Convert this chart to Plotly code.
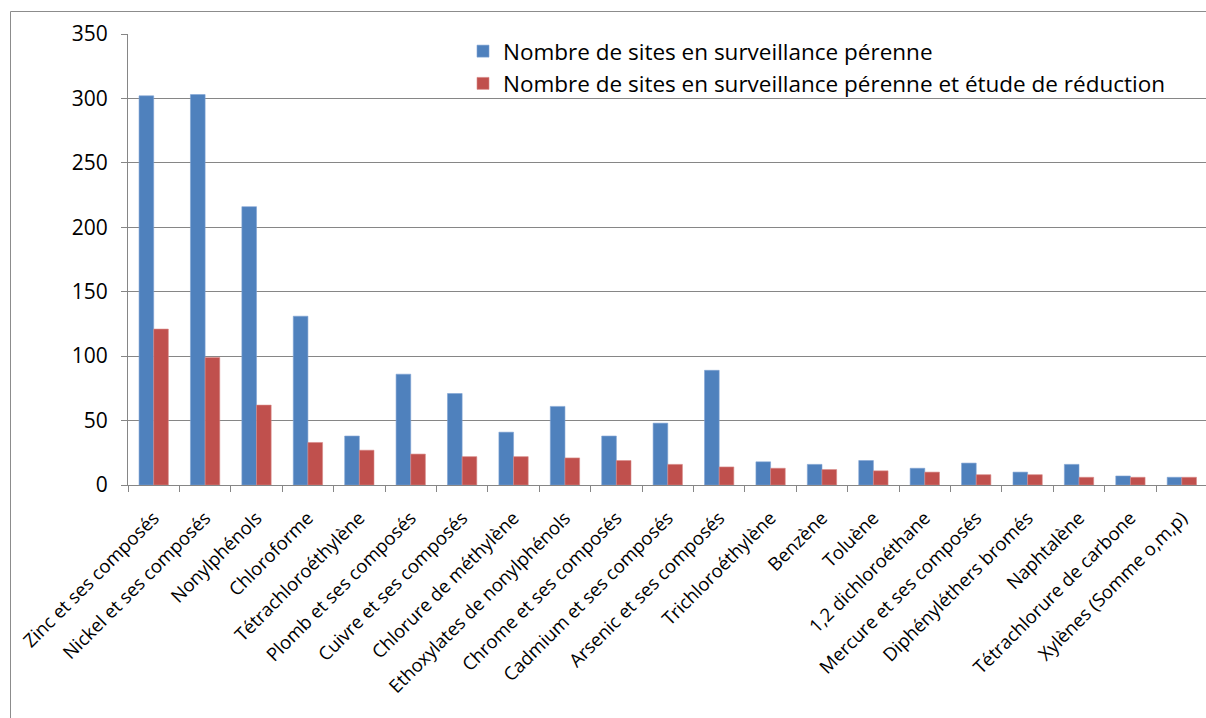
import plotly.graph_objects as go

categories = [
    "Zinc et ses composés", "Nickel et ses composés", "Nonylphénols", "Chloroforme",
    "Tétrachloroéthylène", "Plomb et ses composés", "Cuivre et ses composés",
    "Chlorure de méthylène", "Ethoxylates de nonylphénols", "Chrome et ses composés",
    "Cadmium et ses composés", "Arsenic et ses composés", "Trichloroéthylène",
    "Benzène", "Toluène", "1,2 dichloroéthane", "Mercure et ses composés",
    "Diphényléthers bromés", "Naphtalène", "Tétrachlorure de carbone",
    "Xylènes (Somme o,m,p)",
]
perenne = [302, 303, 216, 131, 38, 86, 71, 41, 61, 38, 48, 89, 18, 16, 19, 13, 17, 10, 16, 7, 6]
perenne_reduction = [121, 99, 62, 33, 27, 24, 22, 22, 21, 19, 16, 14, 13, 12, 11, 10, 8, 8, 6, 6, 6]
series_names = [
    "Nombre de sites en surveillance pérenne",
    "Nombre de sites en surveillance pérenne et étude de réduction",
]
y_ticks = [0, 50, 100, 150, 200, 250, 300, 350]

W, H = 1206, 718
L, R, T, B = 128, 1206, 34, 485  # plot area pixel box

fig = go.Figure()
fig.add_trace(go.Bar(x=categories, y=perenne, name=series_names[0],
                     marker=dict(color="#4F81BD", line=dict(color="#7FA3D3", width=0.6)),
                     legendgroup="a"))
fig.add_trace(go.Bar(x=categories, y=perenne_reduction, name=series_names[1],
                     marker=dict(color="#C0504D", line=dict(color="#D88A88", width=0.6)),
                     legendgroup="b"))

def px_x(p):
    return (p - L) / (R - L)

def px_y(p):
    return (B - p) / (B - T)

fig.add_shape(type="rect", xref="paper", yref="paper",
              x0=px_x(10.5), x1=px_x(1230), y0=px_y(11.5), y1=px_y(740),
              line=dict(color="#8C8C8C", width=1), fillcolor="rgba(0,0,0,0)", layer="below")

fig.update_layout(
    width=W, height=H,
    margin=dict(l=L, r=W - R, t=T, b=H - B, pad=0),
    paper_bgcolor="white", plot_bgcolor="white",
    barmode="group", bargap=0.43, bargroupgap=0,
    font=dict(family="Open Sans", color="black"),
    showlegend=True,
    legend=dict(x=px_x(463), y=px_y(30), xanchor="left", yanchor="top",
                bgcolor="rgba(0,0,0,0)", font=dict(size=22.5, family="Open Sans"),
                traceorder="grouped", tracegroupgap=0, itemwidth=30),
    xaxis=dict(type="category", range=[-0.5, 20.47], tickangle=-45,
               ticks="outside", tickson="boundaries", ticklen=6, tickcolor="#868686",
               showline=True, linecolor="#868686", linewidth=1,
               tickfont=dict(size=18.5, family="Open Sans"), showgrid=False,
               ticklabelstandoff=14),
    yaxis=dict(range=[0, 350], tickvals=y_ticks, ticks="outside", ticklen=6,
               tickcolor="#868686", showline=True, linecolor="#868686", linewidth=1,
               gridcolor="#868686", gridwidth=1, zeroline=False,
               tickfont=dict(size=21, family="Open Sans"), ticklabelstandoff=9),
)

fig.write_html("out.html", config={"displayModeBar": False},
               post_script="document.body.style.margin='0';document.body.style.overflow='hidden';")
